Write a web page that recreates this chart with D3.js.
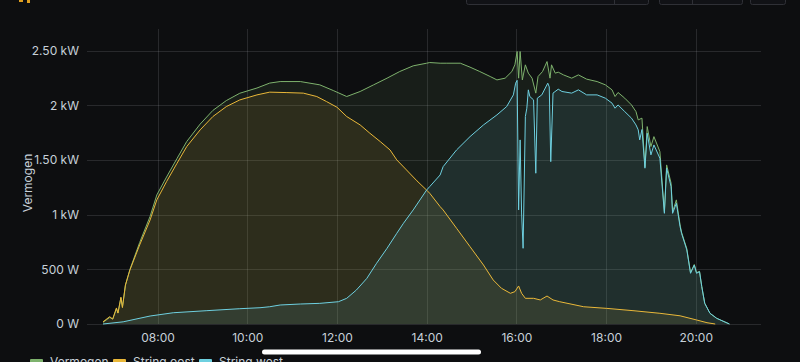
<!DOCTYPE html>
<html>
<head>
<meta charset="utf-8">
<script src="https://cdn.jsdelivr.net/npm/d3@7"></script>
<style>
  html, body { margin: 0; padding: 0; background: #0d0e10; overflow: hidden; }
  svg { display: block; font-family: Inter, Roboto, "Noto Sans", sans-serif; }
</style>
</head>
<body>
<div id="chart"></div>
<script>
var width = 800, height = 362;
var margin = {top: 29, right: 39, bottom: 38, left: 87};

// tick labels
var xTicks = ["08:00", "10:00", "12:00", "14:00", "16:00", "18:00", "20:00"];
var yTicks = [0, 500, 1000, 1500, 2000, 2500];
var yTickLabels = ["0 W", "500 W", "1 kW", "1.50 kW", "2 kW", "2.50 kW"];
var seriesNames = ["Vermogen", "String oost", "String west"];
var seriesColors = ["#7EB26D", "#EAB839", "#6ED0E0"];

// Vermogen
var vermogenTimes = ["06:47","06:56","07:00","07:05","07:07","07:11","07:13","07:17","07:23","07:36","07:50","07:59",
  "08:12","08:26","08:39","08:57","09:14","09:32","09:50","10:13","10:30","10:44","11:11","11:37","11:55","12:13",
  "12:31","12:49","13:07","13:24","13:42","14:00","14:04","14:18","14:27","14:45","14:58","15:11","15:25","15:34",
  "15:45","15:54","15:58","16:01","16:03","16:05","16:08","16:12","16:16","16:21","16:26","16:29","16:35","16:41",
  "16:45","16:47","16:52","16:56","17:03","17:14","17:23","17:34","17:48","17:59","18:08","18:12","18:16","18:25",
  "18:34","18:40","18:43","18:48","18:52","18:55","19:00","19:04","19:12","19:18","19:21","19:27","19:29","19:34",
  "19:39","19:41","19:48","19:53","19:58","20:01","20:05","20:08","20:12","20:19","20:28","20:45"];
var vermogenValues = [15,60,45,140,100,240,155,355,500,745,985,1181,
  1345,1515,1670,1830,1955,2045,2112,2160,2205,2219,2219,2189,2137,2082,
  2128,2189,2250,2311,2363,2387,2393,2387,2387,2387,2351,2311,2265,2234,
  2250,2311,2372,2494,2250,2494,2234,2372,2296,2250,2113,2265,2311,2402,
  2250,2372,2296,2305,2280,2250,2280,2241,2219,2189,2143,2082,2119,2067,
  2005,1944,1868,1884,1440,1807,1624,1715,1578,1028,1456,1288,1028,1136,
  907,840,690,470,545,470,482,345,190,98,52,0];

// String oost
var oostTimes = ["06:47","06:56","07:00","07:05","07:07","07:11","07:13","07:17","07:23","07:36","07:50","07:59",
  "08:12","08:26","08:39","08:57","09:14","09:32","09:50","10:13","10:30","10:53","11:15","11:33","11:46","12:00",
  "12:13","12:31","12:44","12:58","13:11","13:20","13:33","13:47","14:00","14:04","14:18","14:22","14:40","14:58",
  "15:16","15:29","15:40","15:52","15:58","16:03","16:07","16:12","16:23","16:32","16:41","16:49","16:58","17:30",
  "18:01","18:36","19:12","19:39","20:01","20:15","20:26"];
var oostValues = [20,67,45,147,100,245,150,357,494,723,952,1136,
  1303,1471,1624,1777,1899,1990,2051,2097,2122,2118,2113,2082,2036,1984,
  1899,1822,1746,1669,1593,1502,1410,1310,1225,1197,1074,1044,876,708,
  540,403,327,281,296,348,281,235,235,220,256,220,204,158,
  143,122,98,75,37,12,0];

// String west
var westTimes = ["06:47","07:14","07:50","08:21","09:06","09:50","10:17","10:30","10:44","11:11","11:37","12:02",
  "12:13","12:26","12:40","12:53","13:07","13:20","13:29","13:42","14:00","14:04","14:18","14:22","14:40","14:58",
  "15:16","15:34","15:47","15:56","15:59","16:01","16:03","16:05","16:07","16:09","16:12","16:14","16:16","16:18",
  "16:23","16:26","16:28","16:34","16:42","16:44","16:46","16:49","16:56","17:01","17:14","17:23","17:34","17:48",
  "17:59","18:08","18:12","18:16","18:25","18:34","18:40","18:43","18:45","18:48","18:52","18:55","19:00","19:04",
  "19:12","19:18","19:21","19:27","19:29","19:34","19:39","19:41","19:48","19:53","19:58","20:01","20:05","20:08",
  "20:12","20:19","20:28","20:45"];
var westValues = [0,20,73,103,122,140,149,158,174,183,189,204,
  235,311,418,556,693,830,922,1044,1227,1257,1364,1440,1593,1715,
  1822,1914,1990,2097,2204,2230,1044,1685,1016,693,1899,1975,2143,2082,
  2051,1380,2067,2097,2204,2170,1486,2113,2149,2128,2113,2143,2097,2097,
  2067,2021,1975,2005,1944,1884,1822,1777,1685,1780,1426,1746,1548,1639,
  1517,1013,1426,1257,1013,1105,891,830,678,464,540,464,479,342,
  189,98,52,0];

var parseTime = d3.timeParse("%H:%M:%S");
function zip(times, values) {
  return times.map(function(t, i) { return {t: parseTime(t + ":00"), v: values[i]}; });
}
var series = [zip(vermogenTimes, vermogenValues), zip(oostTimes, oostValues), zip(westTimes, westValues)];

var svg = d3.select("#chart").append("svg")
    .attr("width", width)
    .attr("height", height);

var plotW = width - margin.left - margin.right,
    plotH = height - margin.top - margin.bottom;

var x = d3.scaleTime()
    .domain([parseTime("06:25:36"), parseTime("21:27:15")])
    .range([margin.left, margin.left + plotW]);

var y = d3.scaleLinear()
    .domain([0, 2700])
    .range([margin.top + plotH, margin.top]);

// top toolbar remnants
var toolbar = svg.append("g");
[[466, 182, 614], [659, 83, 692], [750, 35, null]].forEach(function(b) {
  toolbar.append("rect")
      .attr("x", b[0] + 0.5).attr("y", -6.5)
      .attr("width", b[1]).attr("height", 11)
      .attr("rx", 2)
      .attr("fill", "#111216")
      .attr("stroke", "#2f3036");
  if (b[2]) toolbar.append("line")
      .attr("x1", b[2] + 0.5).attr("x2", b[2] + 0.5)
      .attr("y1", 0).attr("y2", 4.5)
      .attr("stroke", "#2f3036");
});
svg.append("path")
    .attr("d", "M19,0 h4 v2 h-4z M27,0 h3 v3 h-3z")
    .attr("fill", "#e0a020");

// grid
var grid = svg.append("g").attr("stroke", "rgba(204,204,220,0.14)").attr("stroke-width", 1);
grid.selectAll(".hg").data(yTicks).enter().append("line")
    .attr("x1", margin.left).attr("x2", margin.left + plotW)
    .attr("y1", function(d) { return Math.round(y(d)) + 0.5; })
    .attr("y2", function(d) { return Math.round(y(d)) + 0.5; });
grid.selectAll(".vg").data(xTicks).enter().append("line")
    .attr("x1", function(d) { return Math.round(x(parseTime(d + ":00"))) + 0.5; })
    .attr("x2", function(d) { return Math.round(x(parseTime(d + ":00"))) + 0.5; })
    .attr("y1", margin.top).attr("y2", margin.top + plotH);

// areas and lines
var area = d3.area()
    .x(function(d) { return x(d.t); })
    .y0(y(0))
    .y1(function(d) { return y(d.v); });
var line = d3.line()
    .x(function(d) { return x(d.t); })
    .y(function(d) { return y(d.v); });

series.forEach(function(s, i) {
  svg.append("path")
      .datum(s)
      .attr("d", area)
      .attr("fill", seriesColors[i])
      .attr("fill-opacity", 0.1);
});
series.forEach(function(s, i) {
  svg.append("path")
      .datum(s)
      .attr("d", line)
      .attr("fill", "none")
      .attr("stroke", seriesColors[i])
      .attr("stroke-width", 1)
      .attr("stroke-linejoin", "round");
});

// axes
var yAxis = svg.append("g")
    .attr("transform", "translate(" + (margin.left - 5) + ",0)")
    .call(d3.axisLeft(y).tickValues(yTicks).tickSize(0)
      .tickFormat(function(d, i) { return yTickLabels[i]; }));
var xAxis = svg.append("g")
    .attr("transform", "translate(0," + (margin.top + plotH + 6) + ")")
    .call(d3.axisBottom(x).tickValues(xTicks.map(function(d) { return parseTime(d + ":00"); }))
      .tickSize(0).tickFormat(d3.timeFormat("%H:%M")));
[yAxis, xAxis].forEach(function(a) {
  a.select(".domain").remove();
  a.selectAll("text")
      .attr("fill", "#c7d0d9")
      .style("font-size", "12px")
      .style("font-family", "Inter, Roboto, sans-serif");
});

svg.append("text")
    .attr("transform", "rotate(-90)")
    .attr("x", -183)
    .attr("y", 32)
    .attr("text-anchor", "middle")
    .attr("fill", "#c7d0d9")
    .style("font-size", "12px")
    .text("Vermogen");

// legend (cut by the bottom edge, as in the screenshot)
var legendX = [30, 113, 199];
var legend = svg.append("g");
seriesNames.forEach(function(name, i) {
  legend.append("rect")
      .attr("x", legendX[i]).attr("y", 359)
      .attr("width", 13).attr("height", 8)
      .attr("rx", 1)
      .attr("fill", seriesColors[i]);
  legend.append("text")
      .attr("x", legendX[i] + 20).attr("y", 366)
      .attr("fill", "#c7d0d9")
      .style("font-size", "12px")
      .text(name);
});

// home indicator bar
svg.append("rect")
    .attr("x", 262).attr("y", 349.5)
    .attr("width", 219).attr("height", 5)
    .attr("rx", 2.5)
    .attr("fill", "#ffffff");
</script>
</body>
</html>
